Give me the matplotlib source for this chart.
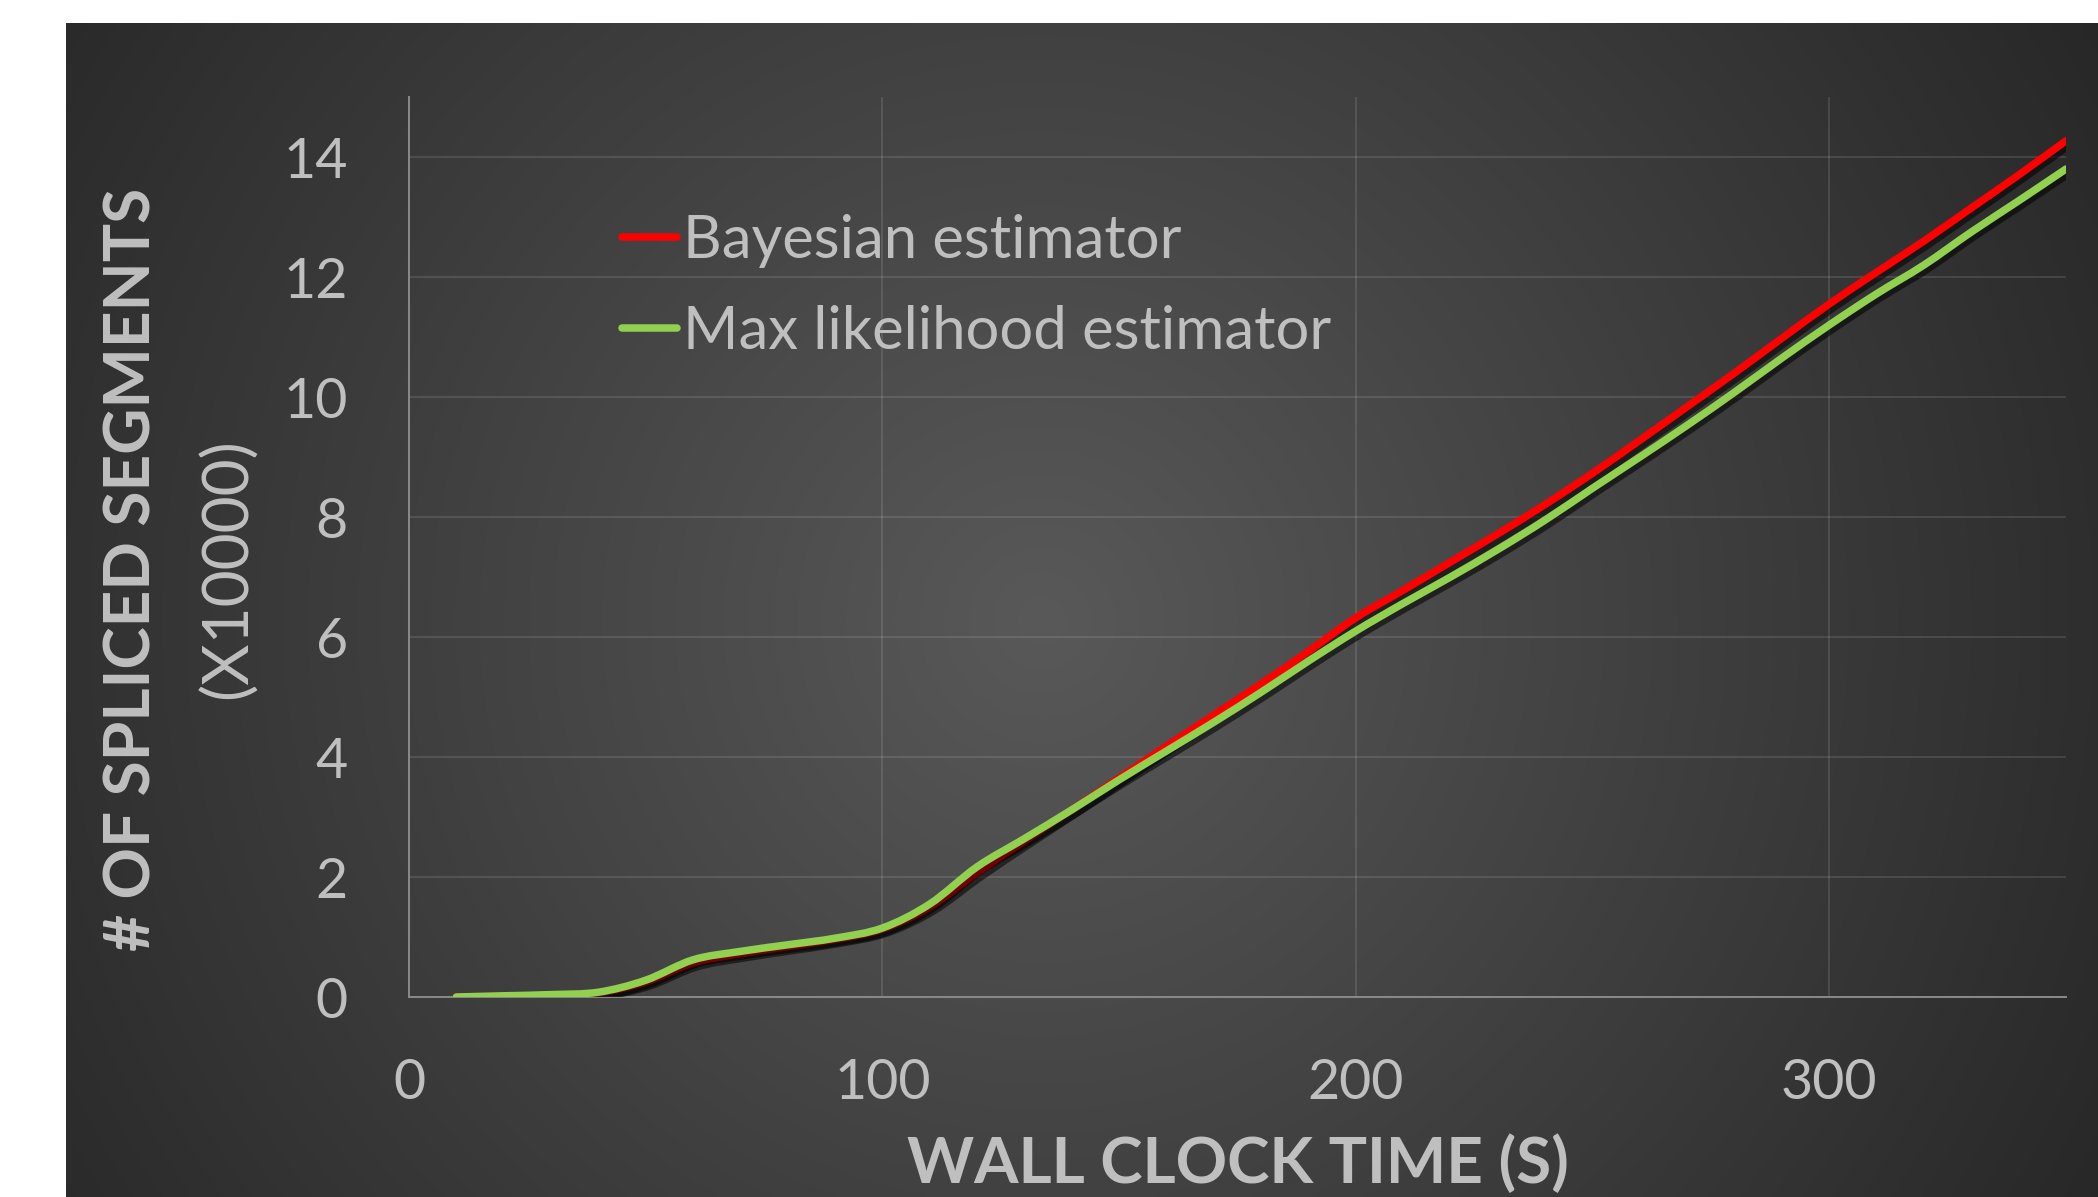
import numpy as np
import matplotlib
matplotlib.use("Agg")
import matplotlib.pyplot as plt
from matplotlib.path import Path
from matplotlib.patches import PathPatch
from matplotlib.lines import Line2D
import matplotlib.patheffects as pe

# ---- data: spliced segments (x10000) versus wall clock time (s) ----
time_s = [10, 20, 30, 40, 50, 60, 70, 80, 90, 100,
          110, 120, 130, 140, 150, 160, 170, 180, 190, 200,
          210, 220, 230, 240, 250, 260, 270, 280, 290, 300,
          310, 320, 330, 340, 350]
bayesian = [0.00, 0.01, 0.03, 0.07, 0.25, 0.57, 0.72, 0.84, 0.96, 1.13,
            1.50, 2.07, 2.60, 3.12, 3.65, 4.18, 4.70, 5.22, 5.76, 6.32,
            6.78, 7.25, 7.72, 8.21, 8.73, 9.28, 9.84, 10.40, 10.98, 11.55,
            12.08, 12.60, 13.15, 13.70, 14.27]
max_likelihood = [0.00, 0.02, 0.04, 0.08, 0.28, 0.62, 0.76, 0.87, 0.98, 1.15,
                  1.55, 2.17, 2.64, 3.12, 3.62, 4.10, 4.58, 5.08, 5.60, 6.10,
                  6.56, 7.00, 7.46, 7.95, 8.48, 9.00, 9.53, 10.08, 10.65, 11.20,
                  11.72, 12.20, 12.75, 13.27, 13.80]
series_labels = ["Bayesian estimator", "Max likelihood estimator"]
series_colors = ["#FF0000", "#92D050"]
x_ticks = [0, 100, 200, 300]
y_ticks = [0, 2, 4, 6, 8, 10, 12, 14]
x_title = "WALL CLOCK TIME (S)"
y_title_top = "# OF SPLICED SEGMENTS"
y_title_bottom = "(X10000)"

W, H = 2098, 1197
FONT = "Lato"
TXT = "#BFBFBF"

fig = plt.figure(figsize=(W / 100, H / 100), dpi=100, facecolor="white")

# dark panel with a soft radial gradient
px0, py0 = 66, 23
bg = fig.add_axes([px0 / W, 0, 1 - px0 / W, 1 - py0 / H])
bg.axis("off")
gy, gx = np.mgrid[py0:H:4, px0:W:4]
dist = np.hypot(gx - 1040.0, gy - 620.0) / 1100.0
val = np.clip(89 - 45 * dist, 39, 255) / 255.0
bg.imshow(np.dstack([val, val, val]), aspect="auto", extent=(0, 1, 0, 1),
          origin="upper", interpolation="bilinear")
bg.set_xlim(0, 1)
bg.set_ylim(0, 1)

# plot area
left, right, top, bottom = 409, 2066, 97, 997
ax = fig.add_axes([left / W, 1 - bottom / H, (right - left) / W, (bottom - top) / H])
ax.patch.set_alpha(0)
ax.set_xlim(0, 350)
ax.set_ylim(0, 15)
ax.set_xticks(x_ticks)
ax.set_yticks(y_ticks)
ax.set_axisbelow(True)
ax.grid(True, color="white", alpha=0.13, lw=1.2)
for s in ("top", "right"):
    ax.spines[s].set_visible(False)
for s in ("left", "bottom"):
    ax.spines[s].set_color("#8A8A8A")
    ax.spines[s].set_linewidth(1.4)
ax.tick_params(length=0, labelcolor=TXT, labelsize=40)
ax.tick_params(axis="y", pad=44)
ax.tick_params(axis="x", pad=44)
for lab in ax.get_xticklabels() + ax.get_yticklabels():
    lab.set_fontfamily(FONT)


def smooth_path(xs, ys):
    """Catmull-Rom curve through the points, as cubic Bezier segments."""
    pts = np.column_stack([xs, ys]).astype(float)
    n = len(pts)
    verts = [pts[0]]
    codes = [Path.MOVETO]
    for i in range(n - 1):
        p0 = pts[max(i - 1, 0)]
        p1 = pts[i]
        p2 = pts[i + 1]
        p3 = pts[min(i + 2, n - 1)]
        c1 = p1 + (p2 - p0) / 6.0
        c2 = p2 - (p3 - p1) / 6.0
        verts += [c1, c2, p2]
        codes += [Path.CURVE4] * 3
    return Path(np.array(verts), codes)


shadow = [pe.SimpleLineShadow(offset=(2.5, -3), shadow_color="black", alpha=0.55),
          pe.Normal()]
for ys, col in zip([bayesian, max_likelihood], series_colors):
    patch = PathPatch(smooth_path(time_s, ys), fill=False, edgecolor=col,
                      lw=5.4, capstyle="round", joinstyle="round",
                      transform=ax.transData, zorder=3)
    patch.set_path_effects(shadow)
    ax.add_patch(patch)

handles = [Line2D([], [], color=c, lw=5.4, solid_capstyle="round") for c in series_colors]
leg = ax.legend(handles, series_labels, loc="upper left",
                bbox_to_anchor=(622 / W, 1 - 214 / H), bbox_transform=fig.transFigure,
                frameon=False, borderpad=0, borderaxespad=0,
                handlelength=0.92, handletextpad=0.1, labelspacing=0.62,
                prop={"family": FONT, "size": 43})
for t in leg.get_texts():
    t.set_color(TXT)

# axis titles
fig.text(1238 / W, 1 - 1183 / H, x_title, ha="center", va="baseline",
         color=TXT, fontsize=46, fontweight="bold", fontfamily=FONT)
fig.text(132 / W, 1 - 569 / H, y_title_top, ha="center", va="center",
         rotation=90, color=TXT, fontsize=46, fontweight="bold", fontfamily=FONT)
fig.text(228 / W, 1 - 569 / H, y_title_bottom, ha="center", va="center",
         rotation=90, color=TXT, fontsize=46, fontfamily=FONT)

fig.savefig("out.png", dpi=100, facecolor="white")
